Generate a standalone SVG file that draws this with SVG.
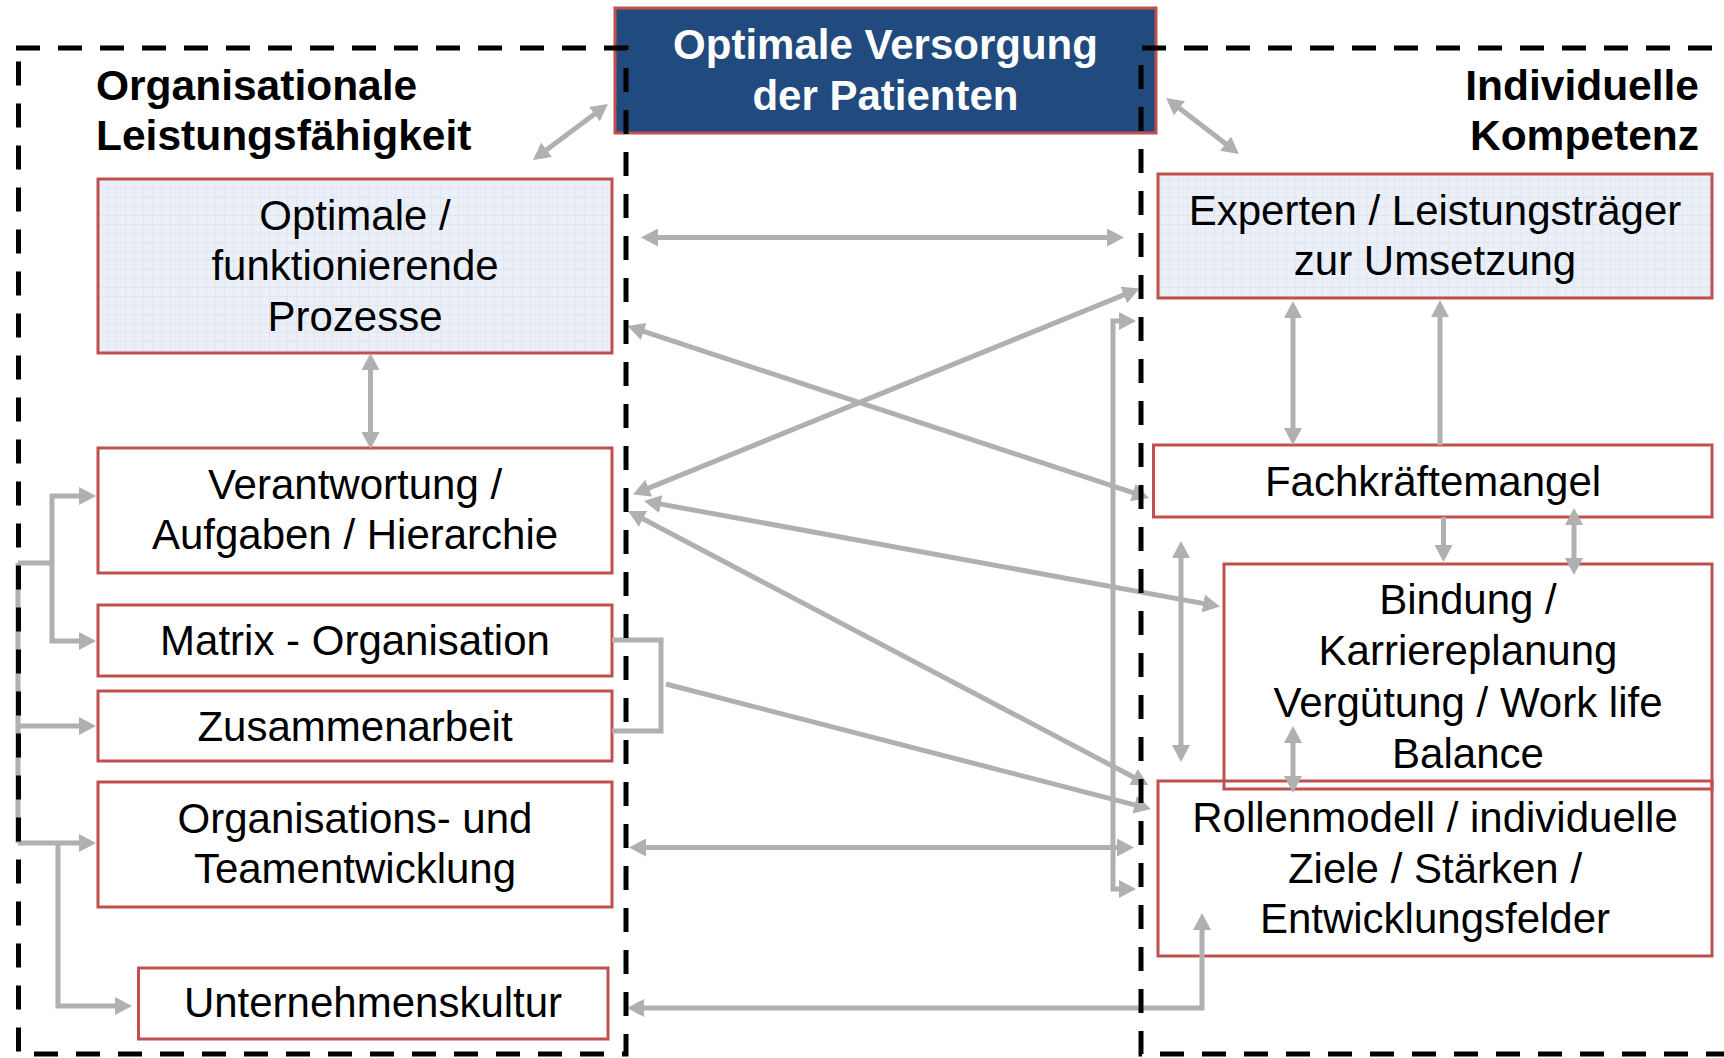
<svg xmlns="http://www.w3.org/2000/svg" width="1724" height="1058" viewBox="0 0 1724 1058">
<style>
  .box{fill:#FFFFFF;stroke:#C0504D;stroke-width:3}
  .lbox{fill:url(#grid);stroke:#C0504D;stroke-width:3}
  .t{font-family:"Liberation Sans",Arial,Helvetica,sans-serif;font-size:42px;fill:#000;text-anchor:middle}
  .h{font-family:"Liberation Sans",Arial,Helvetica,sans-serif;font-size:42.5px;font-weight:bold;fill:#000}
  .ttl{font-family:"Liberation Sans",Arial,Helvetica,sans-serif;font-size:42px;font-weight:bold;fill:#FFFFFF;text-anchor:middle}
  .c{fill:none;stroke:#B0B0B0;stroke-width:5}
  .a2{marker-start:url(#ah);marker-end:url(#ah)}
  .a1{marker-end:url(#ah)}
  .dash{fill:none;stroke:#000;stroke-width:5;stroke-dasharray:24 18}
</style>
<defs>
  <pattern id="grid" width="9" height="9" patternUnits="userSpaceOnUse">
    <rect width="9" height="9" fill="#EBF0F8"/>
    <path d="M8.5,0 V9 M0,8.5 H9" stroke="#DFE6F1" stroke-width="1"/>
  </pattern>
  <marker id="ah" markerUnits="userSpaceOnUse" markerWidth="18" markerHeight="18" refX="12" refY="9" orient="auto-start-reverse">
    <path d="M0,0 L17,9 L0,18 z" fill="#B0B0B0"/>
  </marker>
</defs>
<rect width="1724" height="1058" fill="#FFFFFF"/>

<g id="title">
  <rect x="615" y="8" width="541" height="125" fill="#214A7E" stroke="#C0504D" stroke-width="3"/>
  <text class="ttl" x="885.5" y="58.5">Optimale Versorgung</text>
  <text class="ttl" x="885.5" y="109.5">der Patienten</text>
</g>

<g id="header-left">
  <text class="h" x="96" y="100">Organisationale</text>
  <text class="h" x="96" y="150">Leistungsfähigkeit</text>
</g>
<g id="header-right">
  <text class="h" x="1699" y="100" text-anchor="end">Individuelle</text>
  <text class="h" x="1699" y="150" text-anchor="end">Kompetenz</text>
</g>

<g id="prozesse">
  <rect class="lbox" x="98" y="179" width="514" height="174"/>
  <text class="t" x="355" y="229.5">Optimale /</text>
  <text class="t" x="355" y="280">funktionierende</text>
  <text class="t" x="355" y="330.5">Prozesse</text>
</g>
<g id="verantwortung">
  <rect class="box" x="98" y="448" width="514" height="125"/>
  <text class="t" x="355" y="498.5">Verantwortung /</text>
  <text class="t" x="355" y="549">Aufgaben / Hierarchie</text>
</g>
<g id="matrix">
  <rect class="box" x="98" y="605" width="514" height="71"/>
  <text class="t" x="355" y="655">Matrix - Organisation</text>
</g>
<g id="zusammenarbeit">
  <rect class="box" x="98" y="691" width="514" height="70"/>
  <text class="t" x="355" y="741">Zusammenarbeit</text>
</g>
<g id="teamentwicklung">
  <rect class="box" x="98" y="782" width="514" height="125"/>
  <text class="t" x="355" y="832.5">Organisations- und</text>
  <text class="t" x="355" y="883">Teamentwicklung</text>
</g>
<g id="unternehmenskultur">
  <rect class="box" x="138.5" y="968" width="469.5" height="71"/>
  <text class="t" x="373" y="1017">Unternehmenskultur</text>
</g>

<g id="experten">
  <rect class="lbox" x="1158" y="174" width="554" height="124"/>
  <text class="t" x="1435" y="224.5">Experten / Leistungsträger</text>
  <text class="t" x="1435" y="274.5">zur Umsetzung</text>
</g>
<g id="fachkraeftemangel">
  <rect class="box" x="1153.5" y="445" width="558.5" height="72"/>
  <text class="t" x="1433" y="495.5">Fachkräftemangel</text>
</g>
<g id="bindung">
  <rect class="box" x="1224" y="564" width="488" height="225"/>
  <text class="t" x="1468" y="614">Bindung /</text>
  <text class="t" x="1468" y="665">Karriereplanung</text>
  <text class="t" x="1468" y="716.5">Vergütung / Work life</text>
  <text class="t" x="1468" y="767.5">Balance</text>
</g>
<g id="rollenmodell">
  <rect x="1158" y="781" width="554" height="175" fill="none" stroke="#C0504D" stroke-width="3"/>
  <text class="t" x="1435" y="832">Rollenmodell / individuelle</text>
  <text class="t" x="1435" y="882.5">Ziele / Stärken /</text>
  <text class="t" x="1435" y="933">Entwicklungsfelder</text>
</g>

<g id="connectors">
  <line class="c a2" x1="604" y1="107" x2="537" y2="157"/>
  <line class="c a2" x1="1170" y1="101" x2="1235" y2="151"/>
  <line class="c a2" x1="646" y1="237.5" x2="1119" y2="237.5"/>
  <line class="c a2" x1="632.3" y1="327.6" x2="1144.2" y2="496.4"/>
  <line class="c a2" x1="637.6" y1="492.6" x2="1134.9" y2="290.4"/>
  <line class="c a2" x1="648.9" y1="501.9" x2="1215.1" y2="605.6"/>
  <line class="c a2" x1="632.4" y1="513.3" x2="1144.1" y2="782.7"/>
  <path class="c" d="M612,640 H661 V731 H612"/>
  <line class="c a1" x1="666" y1="684" x2="1146.2" y2="807.8"/>
  <line class="c a2" x1="634" y1="847.5" x2="1129" y2="847.5"/>
  <path class="c a2" d="M1131,321 H1113 V889 H1131"/>
  <path class="c a2" d="M1202,918 V1008 H632"/>
  <line class="c a2" x1="370.5" y1="358" x2="370.5" y2="444"/>
  <line class="c a2" x1="1293" y1="306" x2="1293" y2="440"/>
  <line class="c a1" x1="1440" y1="445" x2="1440" y2="305"/>
  <line class="c a1" x1="1443.5" y1="517" x2="1443.5" y2="557"/>
  <line class="c a2" x1="1574" y1="513" x2="1574" y2="570"/>
  <line class="c a2" x1="1293" y1="731" x2="1293" y2="788"/>
  <line class="c a2" x1="1181" y1="546" x2="1181" y2="757"/>
  <path class="c a2" d="M91,496 H52 V641 H91"/>
  <path class="c" d="M18,563 H52"/>
  <path class="c" d="M18,563 V843"/>
  <path class="c a1" d="M18,726 H91"/>
  <path class="c a1" d="M18,843 H91"/>
  <path class="c a1" d="M58,843 V1006 H127"/>
</g>

<g id="frames">
  <path class="dash" d="M16,48 H626 V1054 H18.5 V48"/>
  <path class="dash" d="M1712,48 H1141 V1054 H1724"/>
</g>
</svg>
